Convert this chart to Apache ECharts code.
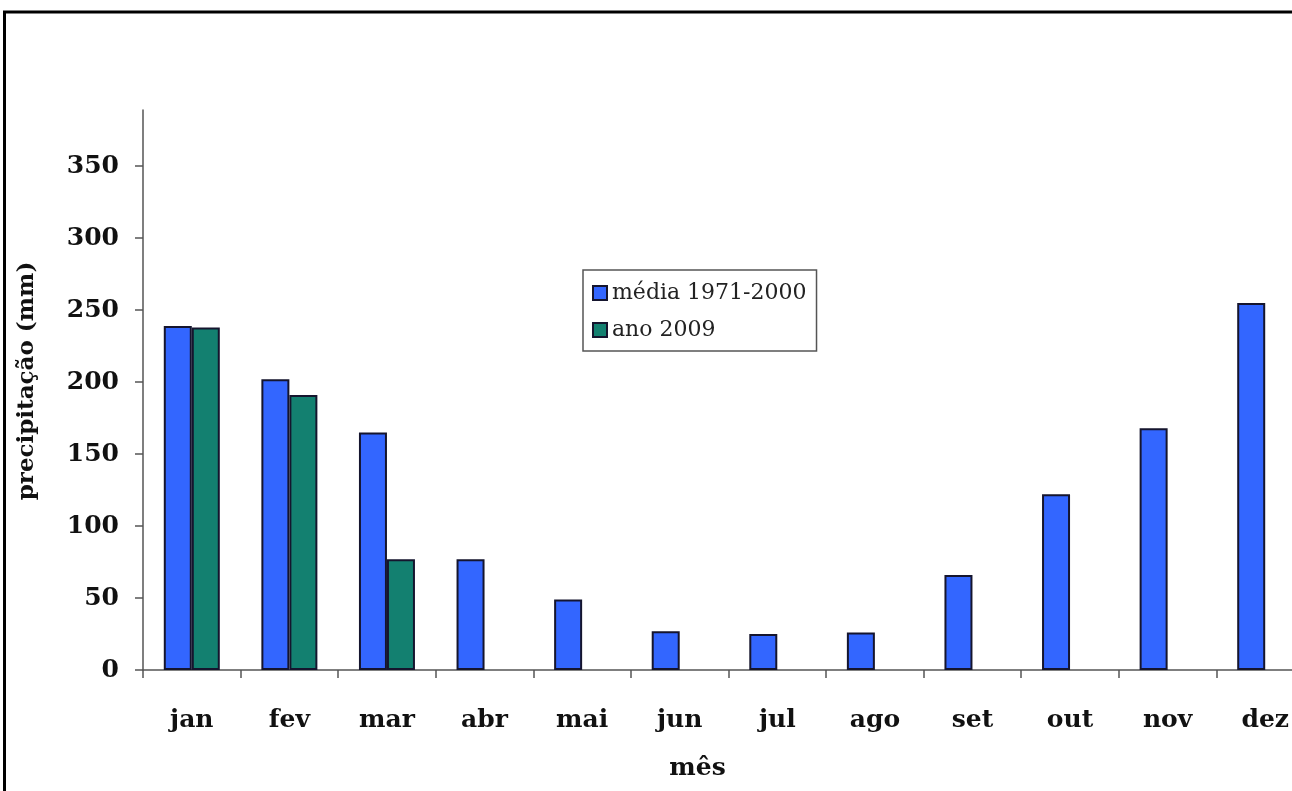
<!DOCTYPE html>
<html>
<head>
<meta charset="utf-8">
<script src="https://cdn.jsdelivr.net/npm/echarts@6/dist/echarts.min.js"></script>
<style>
  html, body { margin: 0; padding: 0; background: #fff; overflow: hidden; }
  #main { width: 1292px; height: 791px; }
</style>
</head>
<body>
<div id="main"></div>
<script>
// meses e valores
var meses = ['jan', 'fev', 'mar', 'abr', 'mai', 'jun', 'jul', 'ago', 'set', 'out', 'nov', 'dez'];
var media = [239, 202, 165, 77, 49, 27, 25, 26, 66, 122, 168, 255];
var ano2009 = [238, 191, 77, null, null, null, null, null, null, null, null, null];
var yTicks = [0, 50, 100, 150, 200, 250, 300, 350];

var serif = '"DejaVu Serif", "Liberation Serif", serif';
var myChart = echarts.init(document.getElementById('main'));

var option = {
    animation: false,
    backgroundColor: '#fff',
    // moldura (só topo e esquerda, a imagem está cortada)
    graphic: [{
        type: 'line',
        shape: { x1: 3, y1: 12, x2: 1292, y2: 12 },
        style: { stroke: '#000', lineWidth: 3 },
        silent: true
    }, {
        type: 'line',
        shape: { x1: 4.5, y1: 11, x2: 4.5, y2: 791 },
        style: { stroke: '#000', lineWidth: 3 },
        silent: true
    }],
    legend: {
        orient: 'vertical',
        left: 583,
        top: 270,
        padding: [12, 10, 10, 9],
        itemGap: 15,
        itemWidth: 14,
        itemHeight: 14,
        icon: 'rect',
        backgroundColor: '#fff',
        borderColor: '#555',
        borderWidth: 1.5,
        borderRadius: 0,
        textStyle: { fontFamily: serif, fontSize: 22, color: '#222', padding: [0, 0, 0, 0] }
    },
    grid: {
        left: 143,
        width: 1171,
        top: 110,
        bottom: 121,
        containLabel: false,
        outerBoundsMode: 'none'
    },
    xAxis: {
        type: 'category',
        data: meses,
        name: 'mês',
        nameLocation: 'middle',
        nameGap: 86,
        nameTextStyle: { fontFamily: serif, fontSize: 25, fontWeight: 'bold', color: '#111', padding: [0, 62, 0, 0] },
        axisLine: { lineStyle: { color: '#555', width: 1.5 } },
        axisTick: { show: true, length: 8, lineStyle: { color: '#555', width: 1.5 } },
        axisLabel: { margin: 38, fontFamily: serif, fontSize: 25, fontWeight: 'bold', color: '#111', interval: 0 }
    },
    yAxis: {
        type: 'value',
        min: 0,
        max: 389,
        interval: 50,
        name: 'precipitação (mm)',
        nameLocation: 'middle',
        nameGap: 104,
        nameRotate: 90,
        nameTextStyle: { fontFamily: serif, fontSize: 23, fontWeight: 'bold', color: '#111', padding: [0, 0, 0, 18] },
        axisLine: { show: true, lineStyle: { color: '#555', width: 1.5 } },
        axisTick: { show: true, length: 8, customValues: yTicks, lineStyle: { color: '#555', width: 1.5 } },
        axisLabel: { margin: 24, customValues: yTicks, fontFamily: serif, fontSize: 25, fontWeight: 'bold', color: '#111' },
        splitLine: { show: false }
    },
    series: [{
        name: 'média 1971-2000',
        type: 'bar',
        data: media,
        barWidth: 28,
        barGap: '0%',
        itemStyle: { color: '#3366ff', borderColor: '#15152e', borderWidth: 2 }
    }, {
        name: 'ano 2009',
        type: 'bar',
        data: ano2009,
        barWidth: 28,
        barGap: '0%',
        itemStyle: { color: '#138070', borderColor: '#15152e', borderWidth: 2 }
    }]
};

myChart.setOption(option);
</script>
</body>
</html>
